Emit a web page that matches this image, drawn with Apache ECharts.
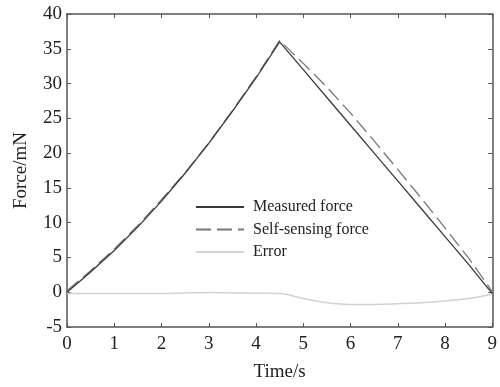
<!DOCTYPE html>
<html>
<head>
<meta charset="utf-8">
<script src="https://cdn.jsdelivr.net/npm/echarts@6/dist/echarts.min.js"></script>
<style>
  html, body { margin: 0; padding: 0; background: #fff; }
  #chart { width: 500px; height: 387px; }
</style>
</head>
<body>
<div id="chart"></div>
<script>
// time samples, s
let times = [0, 0.5, 1, 1.5, 2, 2.5, 3, 3.5, 4, 4.5, 5, 5.5, 6, 6.5, 7, 7.5, 8, 8.5, 9];
// force values, mN
let measured = [0, 2.9, 6.0, 9.4, 13.1, 17.1, 21.4, 26.0, 30.8, 36.0, 32.0, 28.0, 24.0, 20.0, 16.0, 12.0, 8.0, 4.0, -0.2];
let selfSensing = [0.2, 3.1, 6.2, 9.6, 13.3, 17.2, 21.45, 26.1, 30.95, 36.2, 32.9, 29.5, 25.75, 21.75, 17.65, 13.5, 9.25, 4.9, 0.1];
let errors = [-0.2, -0.2, -0.2, -0.2, -0.2, -0.1, -0.05, -0.1, -0.15, -0.2, -0.9, -1.5, -1.75, -1.75, -1.65, -1.5, -1.25, -0.9, -0.3];

let xTicks = [0, 1, 2, 3, 4, 5, 6, 7, 8, 9];
let yTicks = [-5, 0, 5, 10, 15, 20, 25, 30, 35, 40];

let font = '"Liberation Serif", "Times New Roman", serif';
let axisColor = '#555';

let pairs = function (ys) {
  return times.map(function (t, i) { return [t, ys[i]]; });
};

let chart = echarts.init(document.getElementById('chart'), null, { renderer: 'canvas' });

let baseX = {
  type: 'value',
  min: xTicks[0],
  max: xTicks[xTicks.length - 1],
  interval: 1,
  splitLine: { show: false },
  axisLine: { show: true, onZero: false, lineStyle: { color: axisColor, width: 1.5 } },
  axisTick: { show: true, inside: true, length: 4, lineStyle: { color: axisColor, width: 1 } }
};
let baseY = {
  type: 'value',
  min: yTicks[0],
  max: yTicks[yTicks.length - 1],
  interval: 5,
  splitLine: { show: false },
  axisLine: { show: true, onZero: false, lineStyle: { color: axisColor, width: 1.5 } },
  axisTick: { show: true, inside: true, length: 4, lineStyle: { color: axisColor, width: 1 } }
};

let option = {
  backgroundColor: '#fff',
  animation: false,
  textStyle: { fontFamily: font },
  grid: { left: 67, right: 4, top: 14, bottom: 52 },
  legend: {
    orient: 'vertical',
    left: 190,
    top: 194,
    itemWidth: 48,
    itemHeight: 14,
    itemGap: 6.5,
    itemStyle: { opacity: 0 },
    textStyle: { fontFamily: font, fontSize: 16, color: '#222', padding: [0, 0, 0, 4] },
    data: ['Measured force', 'Self-sensing force', 'Error']
  },
  xAxis: [
    Object.assign({}, baseX, {
      position: 'bottom',
      name: 'Time/s',
      nameLocation: 'middle',
      nameGap: 36,
      nameTextStyle: { fontFamily: font, fontSize: 19, color: '#222' },
      axisLabel: { fontFamily: font, fontSize: 19, color: '#222', margin: 8 }
    }),
    Object.assign({}, baseX, { position: 'top', axisLabel: { show: false } })
  ],
  yAxis: [
    Object.assign({}, baseY, {
      position: 'left',
      name: 'Force/mN',
      nameLocation: 'middle',
      nameGap: 36,
      nameTextStyle: { fontFamily: font, fontSize: 19, color: '#222' },
      axisLabel: { fontFamily: font, fontSize: 19, color: '#222', margin: 5 }
    }),
    Object.assign({}, baseY, { position: 'right', axisLabel: { show: false } })
  ],
  series: [
    {
      name: 'Measured force',
      type: 'line',
      symbol: 'none',
      lineStyle: { color: '#3a3a3a', width: 1.3 },
      itemStyle: { color: '#3a3a3a' },
      data: pairs(measured),
      z: 3
    },
    {
      name: 'Self-sensing force',
      type: 'line',
      symbol: 'none',
      lineStyle: { color: '#777', width: 1.3, type: [15, 6] },
      itemStyle: { color: '#777' },
      data: pairs(selfSensing),
      z: 2
    },
    {
      name: 'Error',
      type: 'line',
      symbol: 'none',
      smooth: 0.4,
      lineStyle: { color: '#d2d2d2', width: 1.5 },
      itemStyle: { color: '#d2d2d2' },
      data: pairs(errors),
      z: 1
    }
  ]
};

chart.setOption(option);
</script>
</body>
</html>
